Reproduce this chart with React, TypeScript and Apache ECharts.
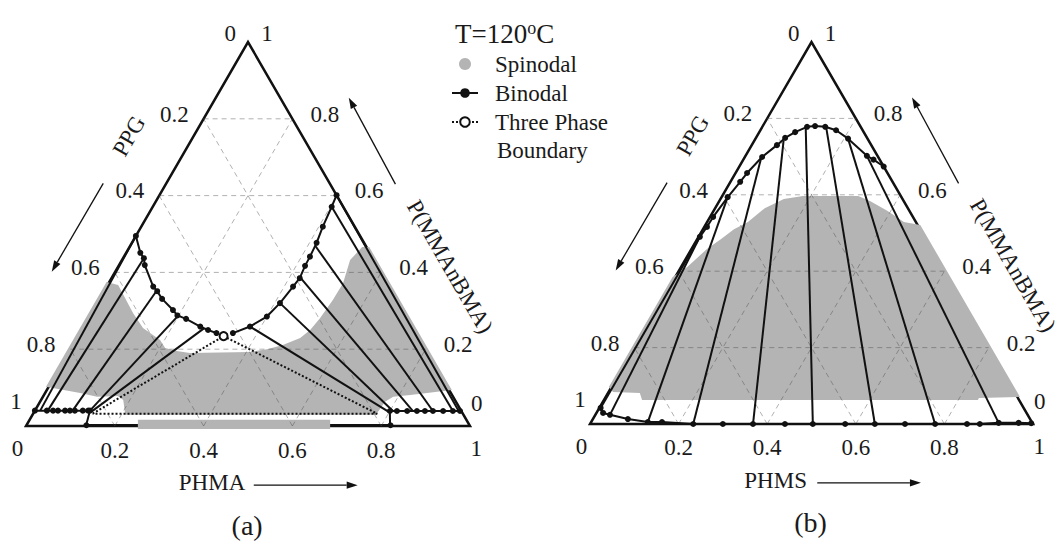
import { useEffect, useRef } from "react";
import * as echarts from "echarts";

// Ternary points are [PHMA (or PHMS) fraction, P(MMAnBMA) fraction]; PPG = 1 - both.
type T = [number, number];

const FONT = "'Liberation Serif', 'Times New Roman', serif";
const INK = "#111111";
const TEXT = "#1a1a1a";
const GRAY = "#b4b4b4";

// ---------- tick labels ----------
const bottomTickValues = [0, 0.2, 0.4, 0.6, 0.8, 1];
const bottomTickLabels = ["0", "0.2", "0.4", "0.6", "0.8", "1"];
const ppgTickValues = [0.2, 0.4, 0.6, 0.8, 1];
const ppgTickLabels = ["0.2", "0.4", "0.6", "0.8", "1"];
const pmmaTickValues = [0.8, 0.6, 0.4, 0.2, 0];
const pmmaTickLabels = ["0.8", "0.6", "0.4", "0.2", "0"];
const gridValues = [0.2, 0.4, 0.6, 0.8];
const topLabels = ["0", "1"];

// ---------- panel (a): PPG / PHMA / P(MMAnBMA) ----------
const spinodalA: T[] = [
  [-0.006, 0.375], [0.024, 0.367], [0.094, 0.294], [0.136, 0.255], [0.19, 0.224], [0.212, 0.203],
  [0.242, 0.195], [0.274, 0.19], [0.408, 0.193], [0.443, 0.2], [0.473, 0.211], [0.503, 0.229],
  [0.515, 0.25], [0.522, 0.281], [0.525, 0.31], [0.527, 0.328], [0.528, 0.372], [0.514, 0.432],
  [0.524, 0.466], [0.54, 0.466], [0.912, 0.094], [0.86, 0.086], [0.825, 0.081], [0.789, 0.076],
  [0.777, 0.063], [0.774, 0.034], [0.776, 0.029], [0.209, 0.029], [0.185, 0.068], [0.168, 0.078],
  [0.122, 0.076], [0.079, 0.086], [-0.006, 0.102],
];
const spinodalBaseA: T[] = [[0.244, 0.016], [0.677, 0.016], [0.689, -0.008], [0.256, -0.008]];

const binodalDomeLeftA: T[] = [
  [0.0, 0.495], [0.032, 0.451], [0.047, 0.437], [0.058, 0.419], [0.105, 0.363], [0.12, 0.351],
  [0.141, 0.331], [0.18, 0.302], [0.197, 0.288], [0.221, 0.279], [0.263, 0.259], [0.285, 0.25],
  [0.308, 0.242],
];
const binodalDomeRightA: T[] = [
  [0.345, 0.242], [0.375, 0.259], [0.4, 0.285], [0.412, 0.32], [0.42, 0.363], [0.424, 0.385],
  [0.42, 0.417], [0.419, 0.441], [0.416, 0.477], [0.409, 0.519], [0.403, 0.571], [0.399, 0.601],
];
const binodalLowLeftA: T[] = [
  [0.0, 0.04], [0.027, 0.04], [0.041, 0.04], [0.052, 0.04], [0.068, 0.04], [0.079, 0.04],
  [0.09, 0.04], [0.108, 0.04], [0.12, 0.04], [0.124, 0.04],
];
const binodalLowRightA: T[] = [
  [0.8, 0.039], [0.816, 0.039], [0.839, 0.039], [0.861, 0.039], [0.879, 0.039], [0.897, 0.039],
  [0.92, 0.039], [0.942, 0.039], [0.958, 0.039],
];
const binodalBaseA: T[] = [[0.135, 0.002], [0.82, 0.002]];
// tie lines: [from PHMA, from PMMA, to PHMA, to PMMA]
const tiesA: number[][] = [
  [0.0, 0.495, 0.012, 0.04],
  [0.047, 0.437, 0.029, 0.04],
  [0.118, 0.351, 0.085, 0.04],
  [0.2, 0.29, 0.124, 0.04],
  [0.274, 0.255, 0.128, 0.036],
  [0.399, 0.601, 0.955, 0.039],
  [0.403, 0.571, 0.942, 0.039],
  [0.416, 0.47, 0.897, 0.039],
  [0.424, 0.387, 0.852, 0.039],
  [0.412, 0.32, 0.807, 0.039],
  [0.375, 0.259, 0.8, 0.036],
  [0.124, 0.04, 0.135, 0.0],
  [0.8, 0.039, 0.82, 0.0],
];
const threePhaseApexA: T = [0.328, 0.234];
const threePhaseLeftA: T = [0.134, 0.032];
const threePhaseRightA: T = [0.775, 0.032];

// ---------- panel (b): PPG / PHMS / P(MMAnBMA) ----------
const spinodalB: T[] = [
  [-0.006, 0.385], [0.014, 0.411], [0.035, 0.458], [0.054, 0.484], [0.07, 0.51], [0.092, 0.529],
  [0.112, 0.565], [0.143, 0.589], [0.182, 0.597], [0.307, 0.597], [0.34, 0.584], [0.392, 0.558],
  [0.444, 0.529], [0.485, 0.521], [0.935, 0.071], [0.844, 0.068], [0.844, 0.063], [0.086, 0.063],
  [0.072, 0.081], [0.01, 0.084], [-0.006, 0.097],
];
const binodalDomeB: T[] = [
  [0.326, 0.674], [0.294, 0.692], [0.274, 0.702], [0.209, 0.747], [0.171, 0.769], [0.142, 0.778],
  [0.118, 0.78], [0.101, 0.778], [0.081, 0.764], [0.066, 0.749], [0.057, 0.73], [0.039, 0.699],
  [0.026, 0.657], [0.022, 0.634], [0.014, 0.594], [0.007, 0.542], [0.006, 0.516], [0.003, 0.49],
];
const binodalEdgeB: T[] = [[0.003, 0.49], [0.003, 0.042]];
const binodalBottomB: T[] = [
  [0.003, 0.042], [0.015, 0.029], [0.033, 0.024], [0.079, 0.013], [0.128, 0.005], [0.16, 0.005],
  [0.233, 0.0], [0.3, 0.0], [0.368, 0.0], [0.44, 0.0], [0.503, 0.0], [0.576, 0.0], [0.643, 0.0],
  [0.711, 0.0], [0.779, 0.0], [0.851, 0.0], [0.88, 0.0], [0.921, 0.003], [0.966, 0.003], [0.995, 0.002],
];
const tiesB: number[][] = [
  [0.003, 0.49, 0.033, 0.024],
  [0.013, 0.598, 0.128, 0.005],
  [0.038, 0.697, 0.233, 0.0],
  [0.066, 0.742, 0.368, 0.0],
  [0.1, 0.774, 0.503, 0.0],
  [0.144, 0.778, 0.643, 0.0],
  [0.209, 0.747, 0.779, 0.0],
  [0.274, 0.702, 0.921, 0.003],
];

// ---------- annotation layout (cartesian fractions of each triangle box) ----------
const arrowsCart: number[][] = [
  [0.174, 0.632, 0.058, 0.402],
  [0.832, 0.63, 0.727, 0.855],
  [0.513, -0.154, 0.747, -0.154],
];

const xy = (p: T): [number, number] => [p[0] + p[1] / 2, p[1]];

function lineSeries(gi: number, name: string, pts: T[], opts: any = {}) {
  return {
    type: "line",
    name,
    xAxisIndex: gi,
    yAxisIndex: gi,
    data: pts.map(xy),
    symbol: "circle",
    symbolSize: 6,
    showAllSymbol: true,
    clip: false,
    silent: true,
    lineStyle: { color: INK, width: 2 },
    itemStyle: { color: INK },
    z: 6,
    ...opts,
  };
}

function segSeries(gi: number, name: string, segs: number[][], style: any, z: number) {
  return {
    type: "custom",
    name,
    xAxisIndex: gi,
    yAxisIndex: gi,
    silent: true,
    clip: false,
    z,
    data: segs.map((s) => [...xy([s[0], s[1]]), ...xy([s[2], s[3]])]),
    encode: { x: [0, 2], y: [1, 3] },
    renderItem: (_p: any, api: any) => {
      const a = api.coord([api.value(0), api.value(1)]);
      const b = api.coord([api.value(2), api.value(3)]);
      return { type: "line", shape: { x1: a[0], y1: a[1], x2: b[0], y2: b[1] }, style: { ...style } };
    },
  };
}

function polySeries(gi: number, name: string, poly: T[], style: any, z: number) {
  const pts = poly.map(xy);
  return {
    type: "custom",
    name,
    xAxisIndex: gi,
    yAxisIndex: gi,
    silent: true,
    clip: false,
    z,
    itemStyle: { color: style.fill && style.fill !== "none" ? style.fill : INK },
    data: pts,
    encode: { x: 0, y: 1 },
    renderItem: (params: any, api: any) => {
      if (params.dataIndex !== 0) return { type: "group", children: [] };
      return { type: "polygon", shape: { points: pts.map((p) => api.coord(p)) }, style: { ...style } };
    },
  };
}

function arrowSeries(gi: number) {
  return {
    type: "custom",
    name: "arrows",
    xAxisIndex: gi,
    yAxisIndex: gi,
    silent: true,
    clip: false,
    z: 8,
    data: arrowsCart,
    encode: { x: [0, 2], y: [1, 3] },
    renderItem: (_p: any, api: any) => {
      const a = api.coord([api.value(0), api.value(1)]);
      const b = api.coord([api.value(2), api.value(3)]);
      const dx = b[0] - a[0];
      const dy = b[1] - a[1];
      const L = Math.hypot(dx, dy);
      const ux = dx / L;
      const uy = dy / L;
      const hl = 11;
      const hw = 3.6;
      const bx = b[0] - ux * hl;
      const by = b[1] - uy * hl;
      return {
        type: "group",
        children: [
          { type: "line", shape: { x1: a[0], y1: a[1], x2: bx, y2: by }, style: { stroke: INK, lineWidth: 1.3 } },
          {
            type: "polygon",
            shape: { points: [[b[0], b[1]], [bx - uy * hw, by + ux * hw], [bx + uy * hw, by - ux * hw]] },
            style: { fill: INK },
          },
        ],
      };
    },
  };
}

function labelSeries(gi: number, bottomTitle: string, tag: string) {
  const items: any[] = [];
  bottomTickValues.forEach((v, i) => {
    const pos = v === 0 ? [-0.019, -0.059] : v === 1 ? [1.014, -0.059] : [v, -0.0625];
    items.push({ name: bottomTickLabels[i], value: pos });
  });
  ppgTickValues.forEach((p, i) => {
    const h = 1 - p;
    const pos = p === 1 ? [-0.0225, 0.063] : [h / 2 - 0.066, h + 0.012];
    items.push({ name: ppgTickLabels[i], value: pos });
  });
  pmmaTickValues.forEach((m, i) => {
    const pos = m === 0 ? [1.015, 0.059] : [1 - m / 2 + 0.073, m + 0.012];
    items.push({ name: pmmaTickLabels[i], value: pos });
  });
  items.push({ name: topLabels[0], value: [0.46, 1.023] });
  items.push({ name: topLabels[1], value: [0.543, 1.023] });
  items.push({ name: "PPG", value: [0.232, 0.755], label: { rotate: 60 } });
  items.push({ name: "P(MMAnBMA)", value: [0.955, 0.415], label: { rotate: -60 } });
  items.push({ name: bottomTitle, value: [0.419, -0.147] });
  items.push({ name: tag, value: [0.498, -0.258], label: { fontSize: 28 } });
  return {
    type: "scatter",
    name: "labels",
    xAxisIndex: gi,
    yAxisIndex: gi,
    silent: true,
    clip: false,
    symbolSize: 1,
    itemStyle: { color: "#ffffff", opacity: 0 },
    z: 9,
    data: items,
    label: {
      show: true,
      position: "inside",
      formatter: "{b}",
      color: TEXT,
      opacity: 1,
      fontFamily: FONT,
      fontSize: 23,
      textBorderWidth: 0,
    },
  };
}

function frameSeries(gi: number) {
  const gridSegs: number[][] = [];
  gridValues.forEach((v) => {
    gridSegs.push([0, v, 1 - v, v]);
    gridSegs.push([v, 0, v, 1 - v]);
    gridSegs.push([v, 0, 0, v]);
  });
  return [
    polySeries(gi, "frame", [[0, 0], [1, 0], [0, 1]], { fill: "none", stroke: INK, lineWidth: 2.5, lineJoin: "miter" }, 1),
    segSeries(gi, "grid", gridSegs, { stroke: "rgba(70,70,70,0.42)", lineWidth: 1, lineDash: [5, 4] }, 3),
  ];
}

function buildOption() {
  const series: any[] = [];
  // panel a
  series.push(...frameSeries(0));
  series.push(lineSeries(0, "binodal base", binodalBaseA, { z: 1, symbolSize: 6, lineStyle: { color: INK, width: 2.5 } }));
  series.push(polySeries(0, "Spinodal", spinodalA, { fill: GRAY }, 2));
  series.push(polySeries(0, "spinodal strip", spinodalBaseA, { fill: GRAY }, 2));
  series.push(segSeries(0, "tie lines", tiesA, { stroke: INK, lineWidth: 2 }, 4));
  series.push({
    type: "line",
    name: "Three Phase Boundary",
    xAxisIndex: 0,
    yAxisIndex: 0,
    silent: true,
    clip: false,
    z: 5,
    symbol: "emptyCircle",
    symbolSize: 8,
    lineStyle: { color: INK, width: 2, type: [2, 2] },
    itemStyle: { color: INK, borderWidth: 1.5 },
    data: [
      { value: xy(threePhaseLeftA), symbol: "none" },
      { value: xy(threePhaseApexA) },
      { value: xy(threePhaseRightA), symbol: "none" },
      { value: xy(threePhaseLeftA), symbol: "none" },
    ],
  });
  series.push(lineSeries(0, "Binodal", binodalDomeLeftA));
  series.push(lineSeries(0, "Binodal", binodalDomeRightA));
  series.push(lineSeries(0, "Binodal", binodalLowLeftA));
  series.push(lineSeries(0, "Binodal", binodalLowRightA));
  series.push(arrowSeries(0));
  series.push(labelSeries(0, "PHMA", "(a)"));

  // panel b
  series.push(...frameSeries(1));
  series.push(polySeries(1, "Spinodal", spinodalB, { fill: GRAY }, 2));
  series.push(segSeries(1, "tie lines", tiesB, { stroke: INK, lineWidth: 2 }, 4));
  series.push(lineSeries(1, "binodal edge", binodalEdgeB, { symbol: "none" }));
  series.push(lineSeries(1, "Binodal", binodalDomeB));
  series.push(lineSeries(1, "Binodal", binodalBottomB));
  series.push(arrowSeries(1));
  series.push(labelSeries(1, "PHMS", "(b)"));

  return {
    animation: false,
    backgroundColor: "#ffffff",
    title: {
      text: "{n|T=120}{s|o}{n|C}",
      left: 450,
      top: 14,
      textStyle: {
        fontWeight: "normal",
        rich: {
          n: { fontFamily: FONT, fontSize: 27, fontWeight: "normal", color: TEXT, lineHeight: 30 },
          s: { fontFamily: FONT, fontSize: 18, fontWeight: "normal", color: TEXT, lineHeight: 12, verticalAlign: "top" },
        },
      },
    },
    legend: {
      left: 446,
      top: 47,
      orient: "vertical",
      itemWidth: 26,
      itemHeight: 12,
      itemGap: 5,
      selectedMode: false,
      data: [{ name: "Spinodal", icon: "circle" }, { name: "Binodal" }, { name: "Three Phase Boundary" }],
      formatter: (n: string) => (n === "Three Phase Boundary" ? "Three Phase" : n),
      textStyle: { fontFamily: FONT, fontSize: 23, color: TEXT, lineHeight: 24, padding: [0, 0, 0, 12] },
    },
    graphic: [
      {
        type: "text",
        left: 497,
        top: 139,
        style: { text: "Boundary", fontFamily: FONT, fontSize: 23, fill: TEXT },
      },
    ],
    grid: [
      { left: 26, top: 42, width: 444, height: 384 },
      { left: 590, top: 42, width: 443, height: 382 },
    ],
    xAxis: [
      { type: "value", gridIndex: 0, min: 0, max: 1, show: false },
      { type: "value", gridIndex: 1, min: 0, max: 1, show: false },
    ],
    yAxis: [
      { type: "value", gridIndex: 0, min: 0, max: 1, show: false },
      { type: "value", gridIndex: 1, min: 0, max: 1, show: false },
    ],
    series,
  };
}

export default function App() {
  const ref = useRef<HTMLDivElement>(null);
  useEffect(() => {
    if (!ref.current) return;
    const chart = echarts.init(ref.current, null, { renderer: "svg" });
    chart.setOption(buildOption() as any);
    return () => chart.dispose();
  }, []);
  return (
    <div
      ref={ref}
      style={{ position: "fixed", left: 0, top: 0, width: 1064, height: 543, background: "#fff" }}
    />
  );
}
